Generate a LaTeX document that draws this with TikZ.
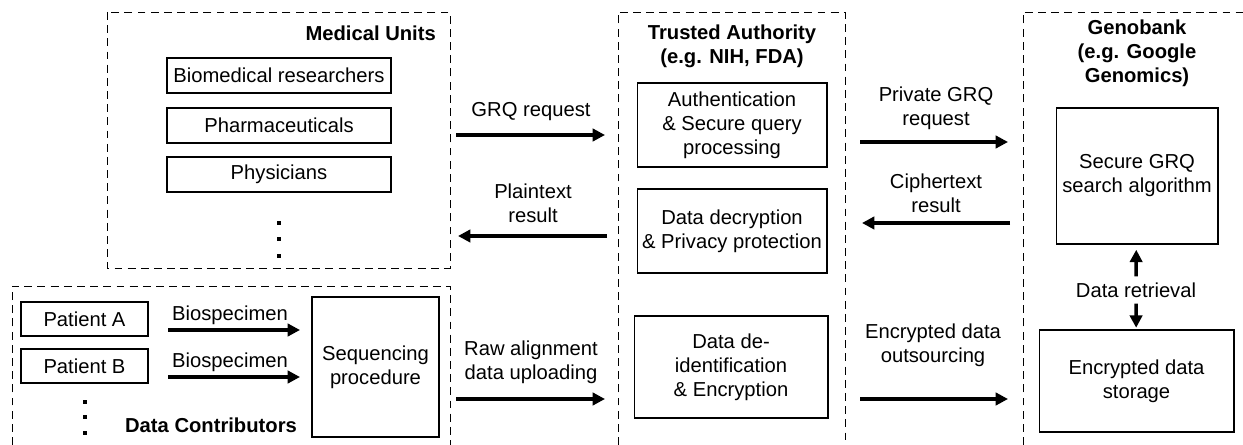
\documentclass[tikz,border=0pt]{standalone}
\usepackage{fontspec}
\setmainfont{Liberation Sans}
\usetikzlibrary{arrows.meta}

\begin{document}
\begin{tikzpicture}[x=0.02cm, y=-0.02cm,
  every node/.style={font=\fontsize{11.5}{13.7}\selectfont, align=center},
  box/.style={draw, line width=0.6pt, inner sep=0.5pt},
  region/.style={draw, line width=0.5pt, dash pattern=on 4.5pt off 3pt},
  flow/.style={-{Triangle[length=7pt,width=7pt]}, line width=2pt},
  title/.style={font=\fontsize{11.5}{13.7}\selectfont\bfseries}]
  \useasboundingbox (0,0) rectangle (1243,445);

  % dashed regions
  \draw[region] (107,12) rectangle (450,268);
  \draw[region] (12,445) -- (12,286) -- (450,286) -- (450,445);
  \draw[region] (618,445) -- (618,12) -- (845,12) -- (845,445);
  \draw[region] (1023,445) -- (1023,12) -- (1243,12);

  % medical units
  \node[title, anchor=east] (medt) at (442,33) {Medical Units};
  \node[box, minimum width=4.48cm, minimum height=0.7cm] (bio) at (279,75.5) {Biomedical researchers};
  \node[box, minimum width=4.48cm, minimum height=0.7cm] (pharma) at (279,125.5) {Pharmaceuticals};
  \node[box, minimum width=4.48cm, minimum height=0.7cm] (phys) at (279,174.5) {Physicians};
  \foreach \y in {223,239,256}
    \fill[shift={(279,\y)}] (-1.6,-1.6) rectangle (1.6,1.6);

  % data contributors
  \node[box, minimum width=2.54cm, minimum height=0.68cm] (patA) at (84.5,319) {Patient A};
  \node[box, minimum width=2.54cm, minimum height=0.68cm] (patB) at (84.5,366) {Patient B};
  \node[box, minimum width=2.54cm, minimum height=2.8cm] (seq) at (375.5,367) {Sequencing\\procedure};
  \node[title] (dct) at (211,425) {Data Contributors};
  \foreach \y in {402,417,433}
    \fill[shift={(85,\y)}] (-1.6,-1.6) rectangle (1.6,1.6);
  \node (bsA) at (230,315) {Biospecimen};
  \node (bsB) at (230,362) {Biospecimen};
  \coordinate (bsA0) at (168,330); \coordinate (bsA1) at (300,330);
  \coordinate (bsB0) at (168,377); \coordinate (bsB1) at (300,377);
  \draw[flow] (bsA0) -- (bsA1);
  \draw[flow] (bsB0) -- (bsB1);

  % trusted authority
  \node[title] (tat) at (732,46) {Trusted Authority\\(e.g. NIH, FDA)};
  \node[box, minimum width=3.8cm, minimum height=1.68cm] (auth) at (732,125) {Authentication\\\& Secure query\\processing};
  \node[box, minimum width=3.8cm, minimum height=1.68cm] (decr) at (732,231) {Data decryption\\\& Privacy protection};
  \node[box, minimum width=3.88cm, minimum height=2.04cm] (deid) at (731,367) {Data de-\\identification\\\& Encryption};

  % genobank
  \node[title] (gbt) at (1137,53) {Genobank\\(e.g. Google\\Genomics)};
  \node[box, minimum width=3.24cm, minimum height=2.72cm] (search) at (1137,176) {Secure GRQ\\search algorithm};
  \node[box, minimum width=3.9cm, minimum height=2.04cm] (store) at (1136.5,381) {Encrypted data\\storage};
  \node (retr) at (1136,290) {Data retrieval};
  \draw[flow, shorten >=3pt] (retr.north) -- (search);
  \draw[flow, shorten >=1pt] (retr.south) -- (store);

  % flows between regions
  \node (grqt) at (531,112) {GRQ request};
  \node (plt) at (533,203.5) {Plaintext\\result};
  \node (rawt) at (531,362.5) {Raw alignment\\data uploading};
  \coordinate (grq0) at (456,135); \coordinate (grq1) at (605,135);
  \coordinate (pl0) at (607,236); \coordinate (pl1) at (458,236);
  \coordinate (raw0) at (456,399); \coordinate (raw1) at (605,399);
  \draw[flow] (grq0) -- (grq1);
  \draw[flow] (pl0) -- (pl1);
  \draw[flow] (raw0) -- (raw1);

  \node (pgt) at (936,108) {Private GRQ\\request};
  \node (cit) at (936,193.5) {Ciphertext\\result};
  \node (outt) at (933,345) {Encrypted data\\outsourcing};
  \coordinate (pg0) at (860,142); \coordinate (pg1) at (1008,142);
  \coordinate (ci0) at (1010,223); \coordinate (ci1) at (862,223);
  \coordinate (out0) at (860,399); \coordinate (out1) at (1008,399);
  \draw[flow] (pg0) -- (pg1);
  \draw[flow] (ci0) -- (ci1);
  \draw[flow] (out0) -- (out1);
\end{tikzpicture}
\end{document}
